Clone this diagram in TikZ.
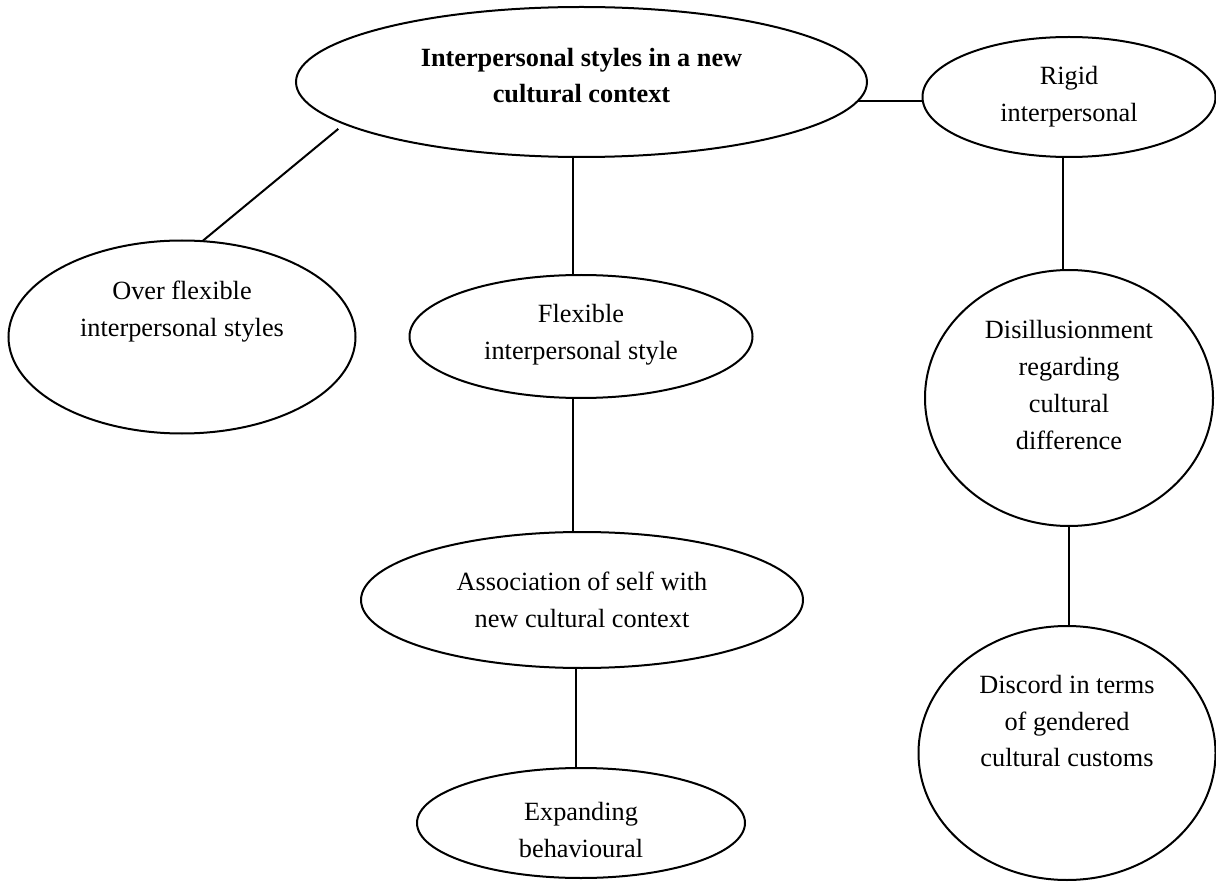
\documentclass[tikz,border=0pt]{standalone}
\usepackage{fontspec}
\setmainfont{Liberation Serif}
\usetikzlibrary{shapes.geometric}
\tikzset{
  ell/.style={ellipse, draw=black, line width=1pt, inner sep=0pt, outer sep=0pt},
  txt/.style={align=center, inner sep=0pt, font=\fontsize{13.15}{18.35}\selectfont},
  con/.style={draw=black, line width=1pt}
}
\begin{document}
\begin{tikzpicture}[x=0.5pt, y=-0.5pt]
\useasboundingbox (0,0) rectangle (1216,882);
\node[ell, minimum width=285.5pt, minimum height=75pt,
  label={[txt, yshift=3.25pt, font=\fontsize{13.15}{18.35}\selectfont\bfseries]center:{Interpersonal styles in a new\\cultural context}}] (top) at (581.5,82) {};
\node[ell, minimum width=146.5pt, minimum height=60pt,
  label={[txt]center:{Rigid\\interpersonal}}] (rigid) at (1069,97) {};
\node[ell, minimum width=173.5pt, minimum height=96.5pt,
  label={[txt, yshift=12.75pt]center:{Over flexible\\interpersonal styles}}] (over) at (182,337) {};
\node[ell, minimum width=171.5pt, minimum height=61.5pt,
  label={[txt, yshift=0.75pt]center:{Flexible\\interpersonal style}}] (flex) at (581,336.5) {};
\node[ell, minimum width=144pt, minimum height=128pt,
  label={[txt, yshift=6.5pt]center:{Disillusionment\\regarding\\cultural\\difference}}] (disil) at (1069,398) {};
\node[ell, minimum width=221pt, minimum height=68pt,
  label={[txt]center:{Association of self with\\new cultural context}}] (assoc) at (582,600) {};
\node[ell, minimum width=164pt, minimum height=55pt,
  label={[txt, yshift=-3.5pt]center:{Expanding\\behavioural}}] (expand) at (581,823) {};
\node[ell, minimum width=148.5pt, minimum height=127pt,
  label={[txt, yshift=16pt]center:{Discord in terms\\of gendered\\cultural customs}}] (discord) at (1067,753) {};
% connectors
\draw[con] (top.-4) -- (top.-4 -| rigid.west);
\draw[con, shorten >=4pt] (over.78) -- (top.190);
\draw[con] ([xshift=-4.25pt]top.south) -- ([xshift=-4.25pt]top.south |- flex.north);
\draw[con] ([xshift=-4pt]flex.south) -- ([xshift=-4pt]flex.south |- assoc.north);
\draw[con] ([xshift=-3pt]assoc.south) -- ([xshift=-3pt]assoc.south |- expand.north);
\draw[con] ([xshift=-3pt]rigid.south) -- ([xshift=-3pt]rigid.south |- disil.north);
\draw[con] (disil.south) -- (disil.south |- discord.north);
\end{tikzpicture}
\end{document}
